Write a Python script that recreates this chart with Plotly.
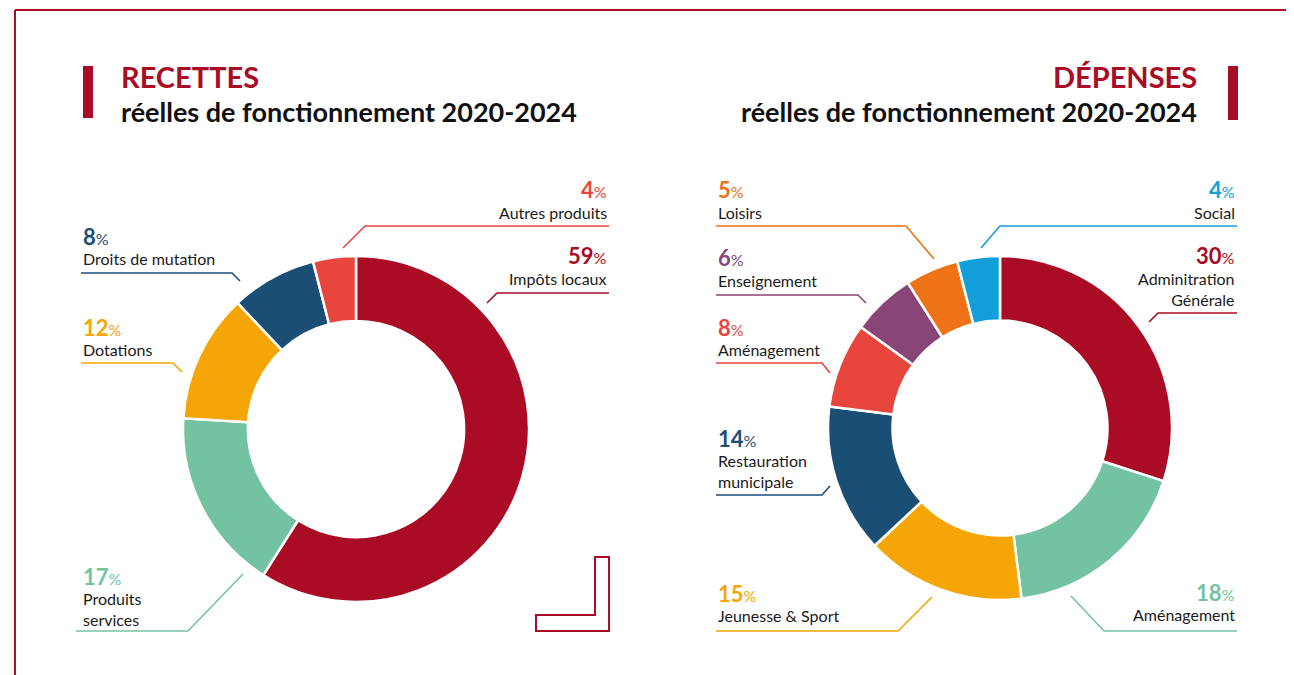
import plotly.graph_objects as go

# the page adds an 8px body margin: the figure is sized so it fills the window exactly
OFF = 8
W, H = 1294 - OFF, 675 - OFF

# ---------------- data ----------------
rec_labels = ["Impôts locaux", "Produits services", "Dotations", "Droits de mutation", "Autres produits"]
rec_values = [59, 17, 12, 8, 4]
rec_colors = ["#A90C24", "#73C3A3", "#F5A506", "#1A4E75", "#E8463C"]

dep_labels = ["Adminitration Générale", "Aménagement", "Jeunesse & Sport", "Restauration municipale",
              "Aménagement", "Enseignement", "Loisirs", "Social"]
dep_values = [30, 18, 15, 14, 8, 6, 5, 4]
dep_colors = ["#A90C24", "#73C3A3", "#F5A506", "#1A4E75", "#E8463C", "#8A4577", "#EE7316", "#129ED9"]

# label display text (line breaks)
rec_display = ["Impôts locaux", "Produits<br>services", "Dotations", "Droits de mutation", "Autres produits"]
dep_display = ["Adminitration<br>Générale", "Aménagement", "Jeunesse & Sport", "Restauration<br>municipale",
               "Aménagement", "Enseignement", "Loisirs", "Social"]

FONT = "Lato"
RED = "#A90C24"

def px(x):
    return (x - OFF) / W

def py(y):
    return 1 - (y - OFF) / H

# ---------------- label layout (screen pixel positions) ----------------
# (anchor side, x, y of number centre, leader polyline)
rec_layout = [
    ("right", 609, 256, [(609, 293), (497, 293), (487, 303)]),
    ("left", 81, 576, [(76, 631), (188, 631), (243, 574)]),
    ("left", 81, 327, [(81, 363), (173, 363), (182, 372)]),
    ("left", 81, 236, [(81, 273), (232, 273), (240, 281)]),
    ("right", 609, 190, [(609, 226), (365, 226), (343, 248)]),
]
dep_layout = [
    ("right", 1237, 256, [(1237, 313), (1158, 313), (1149, 322)]),
    ("right", 1237, 592, [(1237, 631), (1104, 631), (1071, 596)]),
    ("left", 716, 593, [(716, 631), (898, 631), (932, 597)]),
    ("left", 716, 438, [(716, 495), (822, 495), (830, 486)]),
    ("left", 716, 327, [(716, 363), (822, 363), (830, 373)]),
    ("left", 716, 258, [(716, 295), (858, 295), (866, 303)]),
    ("left", 716, 190, [(716, 226), (906, 226), (934, 259)]),
    ("right", 1237, 190, [(1237, 226), (1000, 226), (981, 248)]),
]

fig = go.Figure()

def add_donut(values, labels, colors, x0, x1, y0, y1):
    # unique slice ids so that repeated category names are not merged
    fig.add_trace(go.Pie(
        values=values, labels=[f"{i}" for i in range(len(values))], hovertext=labels,
        sort=False, direction="clockwise", rotation=0,
        hole=0.625, textinfo="none", hoverinfo="text+percent",
        marker=dict(colors=colors, line=dict(color="white", width=2.5)),
        domain=dict(x=[px(x0), px(x1)], y=[py(y1), py(y0)]),
        showlegend=False,
    ))

add_donut(rec_values, rec_labels, rec_colors, 183, 529, 256, 602)
add_donut(dep_values, dep_labels, dep_colors, 828, 1172, 256, 600)

annotations = []
shapes = []

def add_labels(values, display, colors, layout):
    for v, name, col, (side, x, y, pts) in zip(values, display, colors, layout):
        annotations.append(dict(
            x=px(x), y=py(y), xref="paper", yref="paper", xanchor=side, yanchor="middle",
            showarrow=False, align=side,
            text=f"<b>{v}</b><span style='font-size:16px'>%</span>",
            font=dict(family=FONT, size=22, color=col),
        ))
        annotations.append(dict(
            x=px(x), y=py(y + 11), xref="paper", yref="paper", xanchor=side, yanchor="top",
            showarrow=False, align=side, text=name,
            font=dict(family=FONT, size=16, color="#1a1a1a"),
        ))
        path = "M " + " L ".join(f"{px(a)},{py(b)}" for a, b in pts)
        shapes.append(dict(type="path", path=path, xref="paper", yref="paper",
                           line=dict(color=col, width=1.6)))

add_labels(rec_values, rec_display, rec_colors, rec_layout)
add_labels(dep_values, dep_display, dep_colors, dep_layout)

# titles
annotations += [
    dict(x=px(119), y=py(76), xref="paper", yref="paper", xanchor="left", yanchor="middle",
         showarrow=False, text="<b>RECETTES</b>", font=dict(family=FONT, size=29, color=RED)),
    dict(x=px(119), y=py(112), xref="paper", yref="paper", xanchor="left", yanchor="middle",
         showarrow=False, text="<b>réelles de fonctionnement 2020-2024</b>",
         font=dict(family=FONT, size=27, color="#111111")),
    dict(x=px(1199), y=py(76), xref="paper", yref="paper", xanchor="right", yanchor="middle",
         showarrow=False, text="<b>DÉPENSES</b>", font=dict(family=FONT, size=29, color=RED)),
    dict(x=px(1199), y=py(112), xref="paper", yref="paper", xanchor="right", yanchor="middle",
         showarrow=False, text="<b>réelles de fonctionnement 2020-2024</b>",
         font=dict(family=FONT, size=27, color="#111111")),
]

# decorative shapes: frame, title bars, corner L
shapes += [
    dict(type="line", xref="paper", yref="paper", x0=px(15), y0=py(10), x1=px(1294), y1=py(10),
         line=dict(color=RED, width=2)),
    dict(type="line", xref="paper", yref="paper", x0=px(15), y0=py(10), x1=px(15), y1=py(675),
         line=dict(color=RED, width=2)),
    dict(type="rect", xref="paper", yref="paper", x0=px(83), y0=py(66), x1=px(93), y1=py(118),
         fillcolor=RED, line=dict(width=0)),
    dict(type="rect", xref="paper", yref="paper", x0=px(1228), y0=py(66), x1=px(1238), y1=py(120),
         fillcolor=RED, line=dict(width=0)),
    dict(type="path", xref="paper", yref="paper",
         path="M {},{} L {},{} L {},{} L {},{} L {},{} L {},{} Z".format(
             px(536), py(615), px(536), py(631), px(609), py(631),
             px(609), py(557), px(595), py(557), px(595), py(615)),
         line=dict(color=RED, width=2), fillcolor="white"),
]

fig.update_layout(
    width=W, height=H, margin=dict(l=0, r=0, t=0, b=0),
    paper_bgcolor="white", plot_bgcolor="white",
    annotations=annotations, shapes=shapes,
    font=dict(family=FONT),
)

fig.write_html("out.html")
